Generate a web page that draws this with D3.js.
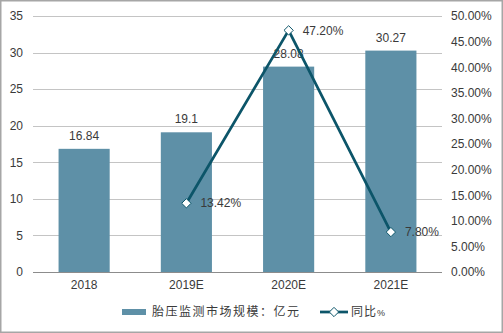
<!DOCTYPE html>
<html>
<head>
<meta charset="utf-8">
<script src="https://cdn.jsdelivr.net/npm/d3@7"></script>
<style>
  html, body { margin: 0; padding: 0; background: #fff; }
  svg text { font-family: "Liberation Sans", Arial, "Noto Sans CJK SC", sans-serif; }
</style>
</head>
<body>
<svg id="chart" width="503" height="333"></svg>
<script>
// Tire pressure monitoring market size (100M yuan) and YoY growth
const categories = ["2018", "2019E", "2020E", "2021E"];
const marketSize = [16.84, 19.1, 28.08, 30.27];
const growthCats = ["2019E", "2020E", "2021E"];
const growthPct = [13.42, 47.20, 7.80];
const leftTicks = [0, 5, 10, 15, 20, 25, 30, 35];
const rightTicks = [0, 5, 10, 15, 20, 25, 30, 35, 40, 45, 50];
const barLegend = "胎压监测市场规模：亿元";
const lineLegend = "同比";
const lineLegendUnit = "%";

const barColor = "#5e90a7";
const lineColor = "#0c5569";

const svg = d3.select("#chart");
const W = 503, H = 333;
const plot = { left: 33, right: 442, top: 16, bottom: 272 };

// outer frame
svg.append("rect")
  .attr("x", 0.75).attr("y", 0.75)
  .attr("width", W - 1.5).attr("height", H - 1.5)
  .attr("fill", "#fff").attr("stroke", "#a6a6a6").attr("stroke-width", 1.5);

const x = d3.scaleBand().domain(categories)
  .range([plot.left, plot.right]).paddingInner(0.5).paddingOuter(0.25);
const yL = d3.scaleLinear().domain([0, 35]).range([plot.bottom, plot.top]);
const yR = d3.scaleLinear().domain([0, 50]).range([plot.bottom, plot.top]);

// gridlines
svg.append("g").selectAll("line").data(leftTicks.filter(d => d > 0)).join("line")
  .attr("x1", plot.left).attr("x2", plot.right)
  .attr("y1", d => Math.round(yL(d)) + 0.5).attr("y2", d => Math.round(yL(d)) + 0.5)
  .attr("stroke", "#c4c4c4").attr("stroke-width", 1);

// left axis
const gL = svg.append("g").attr("transform", `translate(${plot.left - 10},0)`)
  .call(d3.axisLeft(yL).tickValues(leftTicks).tickSize(0).tickPadding(0).tickFormat(d3.format("d")));
gL.select(".domain").remove();
gL.selectAll("text").attr("font-size", 12).attr("fill", "#3a3a3a");

// right axis
const gR = svg.append("g").attr("transform", `translate(${plot.right + 9},0)`)
  .call(d3.axisRight(yR).tickValues(rightTicks).tickSize(0).tickPadding(0)
    .tickFormat(d => d.toFixed(2) + "%"));
gR.select(".domain").remove();
gR.selectAll("text").attr("font-size", 12).attr("fill", "#3a3a3a");

// bars
svg.append("g").selectAll("rect").data(marketSize).join("rect")
  .attr("x", (d, i) => x(categories[i]))
  .attr("width", x.bandwidth())
  .attr("y", d => yL(d))
  .attr("height", d => yL(0) - yL(d))
  .attr("fill", barColor);

// baseline
svg.append("line")
  .attr("x1", plot.left).attr("x2", plot.right)
  .attr("y1", plot.bottom + 0.5).attr("y2", plot.bottom + 0.5)
  .attr("stroke", "#8c8c8c").attr("stroke-width", 1);

// x axis labels
const gX = svg.append("g").attr("transform", `translate(0,${plot.bottom + 8})`)
  .call(d3.axisBottom(x).tickSize(0).tickPadding(0));
gX.select(".domain").remove();
gX.selectAll("text").attr("font-size", 12).attr("fill", "#3a3a3a").attr("dy", "0.75em");

// bar value labels
svg.append("g").selectAll("text").data(marketSize).join("text")
  .attr("x", (d, i) => x(categories[i]) + x.bandwidth() / 2)
  .attr("y", d => yL(d) - 9)
  .attr("text-anchor", "middle")
  .attr("font-size", 12).attr("fill", "#3a3a3a")
  .text(d => String(d));

// growth line
const cx = c => x(c) + x.bandwidth() / 2;
const line = d3.line().x((d, i) => cx(growthCats[i])).y(d => yR(d));
svg.append("path").datum(growthPct)
  .attr("d", line).attr("fill", "none")
  .attr("stroke", lineColor).attr("stroke-width", 2.75).attr("stroke-linejoin", "round");

const diamond = d3.symbol().type(d3.symbolDiamond2).size(55);
svg.append("g").selectAll("path").data(growthPct).join("path")
  .attr("transform", (d, i) => `translate(${cx(growthCats[i])},${yR(d)})`)
  .attr("d", diamond)
  .attr("fill", "#fff").attr("stroke", lineColor).attr("stroke-width", 1);

svg.append("g").selectAll("text").data(growthPct).join("text")
  .attr("x", (d, i) => cx(growthCats[i]) + 14)
  .attr("y", d => yR(d))
  .attr("dy", "0.35em")
  .attr("font-size", 12).attr("fill", "#3a3a3a")
  .text(d => d.toFixed(2) + "%");

// legend
const lg = svg.append("g");
lg.append("rect").attr("x", 122).attr("y", 309).attr("width", 24).attr("height", 6).attr("fill", barColor);
lg.append("text").attr("x", 152).attr("y", 312).attr("dy", "0.35em")
  .attr("font-size", 12).attr("letter-spacing", 1.5).attr("fill", "#3a3a3a")
  .attr("font-family", "'Noto Sans CJK SC', sans-serif")
  .text(barLegend);
lg.append("line").attr("x1", 320).attr("x2", 348).attr("y1", 312).attr("y2", 312)
  .attr("stroke", lineColor).attr("stroke-width", 2.75);
lg.append("path").attr("transform", "translate(334,312)").attr("d", diamond)
  .attr("fill", "#fff").attr("stroke", lineColor).attr("stroke-width", 1);
const lt = lg.append("text").attr("x", 351).attr("y", 312).attr("dy", "0.35em")
  .attr("font-size", 12).attr("letter-spacing", 1).attr("fill", "#3a3a3a")
  .attr("font-family", "'Noto Sans CJK SC', sans-serif");
lt.append("tspan").text(lineLegend);
lt.append("tspan").attr("font-size", 9).text(lineLegendUnit);
</script>
</body>
</html>
